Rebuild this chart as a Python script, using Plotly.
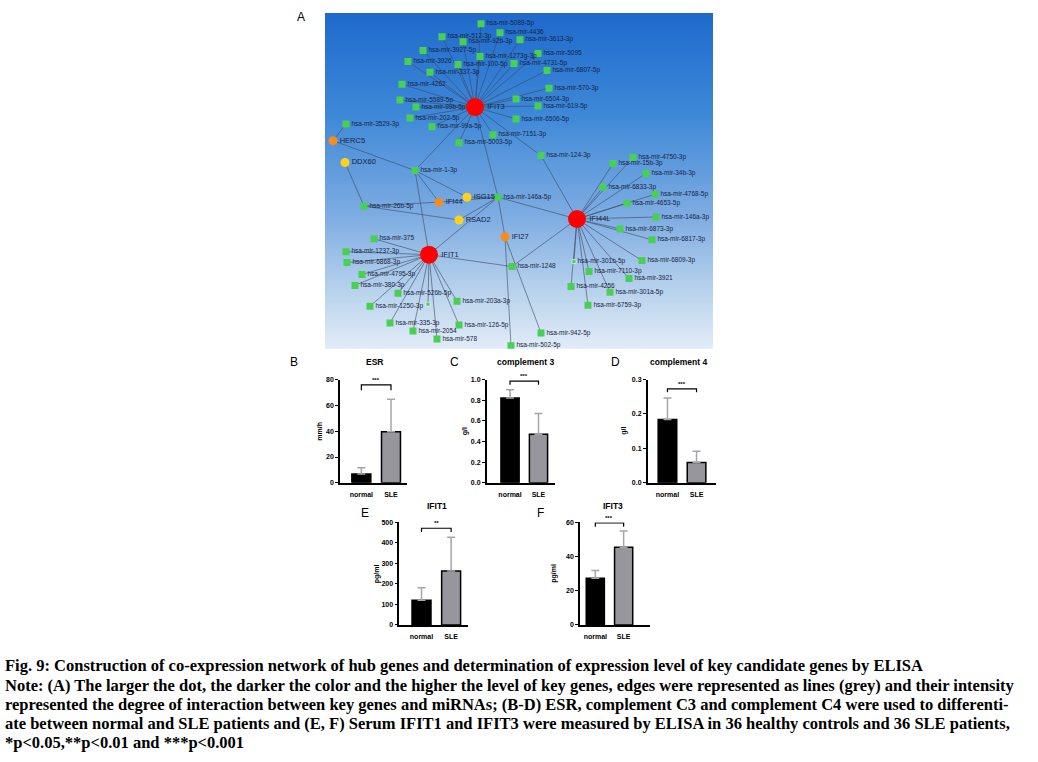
import numpy as np
import plotly.graph_objects as go

W, H = 1038, 762

# ---------------- network data (layout units) ----------------
node_names = [
    "IFIT3", "IFI44L", "IFIT1",
    "HERC5", "IFI44", "IFI27",
    "DDX60", "ISG15", "RSAD2",
    "hsa-mir-5089-5p", "hsa-mir-4436", "hsa-mir-512-3p", "hsa-mir-92b-3p", "hsa-mir-3613-3p",
    "hsa-mir-3927-5p", "hsa-mir-1273g-3p", "hsa-mir-5095", "hsa-mir-3926", "hsa-mir-100-5p",
    "hsa-mir-4731-5p", "hsa-mir-337-3p", "hsa-mir-6807-5p", "hsa-mir-4262", "hsa-mir-570-3p",
    "hsa-mir-5589-5p", "hsa-mir-6504-3p", "hsa-mir-99b-5p", "hsa-mir-619-5p", "hsa-mir-202-5p",
    "hsa-mir-6506-5p", "hsa-mir-3529-3p", "hsa-mir-99a-5p", "hsa-mir-7151-3p", "hsa-mir-5003-5p",
    "hsa-mir-124-3p", "hsa-mir-1-3p", "hsa-mir-146a-5p", "hsa-mir-26b-5p",
    "hsa-mir-4750-3p", "hsa-mir-15b-3p", "hsa-mir-34b-3p", "hsa-mir-6833-3p", "hsa-mir-4768-5p",
    "hsa-mir-4653-5p", "hsa-mir-146a-3p", "hsa-mir-6873-3p", "hsa-mir-6817-3p",
    "hsa-mir-375", "hsa-mir-1237-3p", "hsa-mir-6868-3p", "hsa-mir-4795-3p", "hsa-mir-380-3p",
    "hsa-mir-526b-5p", "hsa-mir-1250-3p", "", "hsa-mir-203a-3p", "hsa-mir-335-3p",
    "hsa-mir-126-5p", "hsa-mir-2054", "hsa-mir-578", "hsa-mir-1248", "hsa-mir-942-5p",
    "hsa-mir-502-5p", "hsa-mir-301b-5p", "hsa-mir-7110-3p", "hsa-mir-6809-3p", "hsa-mir-3921",
    "hsa-mir-4256", "hsa-mir-301a-5p", "hsa-mir-6759-3p",
]
node_x = [
    150, 252, 104,
    8, 114, 180,
    20, 142, 134,
    156, 175, 117, 138, 195,
    98, 155, 213, 83, 133,
    189, 105, 222, 77, 224,
    75, 191, 91, 213, 85,
    191, 21, 107, 168, 134,
    216, 90, 173, 39,
    308, 288, 321, 278, 330,
    302, 331, 295, 327,
    49, 21, 22, 37, 30,
    73, 45, 103, 132, 65,
    134, 88, 112, 187, 216,
    186, 249, 264, 317, 304,
    246, 285, 263,
]
node_y = [
    95, 208, 244,
    129, 191, 226,
    151, 186, 209,
    11, 20, 24, 29, 27,
    38, 44, 41, 49, 52,
    51, 60, 58, 72, 76,
    88, 87, 95, 94, 106,
    107, 112, 115, 123, 131,
    144, 159, 186, 195,
    146, 152, 162, 176, 183,
    192, 206, 218, 229,
    228, 241, 252, 264, 275,
    283, 296, 294, 291, 313,
    315, 321, 329, 256, 323,
    336, 251, 261, 250, 268,
    276, 282, 295,
]
node_kind = ["hub"] * 3 + ["orange"] * 3 + ["yellow"] * 3 + ["mir"] * (len(node_names) - 9)
node_kind[node_names.index("")] = "small"
node_kind[node_names.index("hsa-mir-301b-5p")] = "small"

edges = [("IFIT3", m) for m in [
    "hsa-mir-5089-5p", "hsa-mir-4436", "hsa-mir-512-3p", "hsa-mir-92b-3p", "hsa-mir-3613-3p",
    "hsa-mir-3927-5p", "hsa-mir-1273g-3p", "hsa-mir-5095", "hsa-mir-3926", "hsa-mir-100-5p",
    "hsa-mir-4731-5p", "hsa-mir-337-3p", "hsa-mir-6807-5p", "hsa-mir-4262", "hsa-mir-570-3p",
    "hsa-mir-5589-5p", "hsa-mir-6504-3p", "hsa-mir-99b-5p", "hsa-mir-619-5p", "hsa-mir-202-5p",
    "hsa-mir-6506-5p", "hsa-mir-99a-5p", "hsa-mir-7151-3p", "hsa-mir-5003-5p", "hsa-mir-124-3p",
    "hsa-mir-1-3p", "hsa-mir-146a-5p"]]
edges += [("HERC5", "hsa-mir-3529-3p"), ("HERC5", "hsa-mir-1-3p"), ("DDX60", "hsa-mir-26b-5p"),
          ("ISG15", "hsa-mir-1-3p"), ("IFI44", "hsa-mir-1-3p"), ("IFIT1", "hsa-mir-1-3p"),
          ("IFI44", "hsa-mir-26b-5p"), ("RSAD2", "hsa-mir-26b-5p"),
          ("ISG15", "hsa-mir-146a-5p"), ("IFI44", "hsa-mir-146a-5p"), ("RSAD2", "hsa-mir-146a-5p"),
          ("IFIT1", "hsa-mir-146a-5p"), ("IFI44L", "hsa-mir-146a-5p"), ("IFI27", "hsa-mir-146a-5p"),
          ("IFI27", "hsa-mir-942-5p"), ("IFI27", "hsa-mir-502-5p")]
edges += [("IFI44L", m) for m in [
    "hsa-mir-124-3p", "hsa-mir-1248", "hsa-mir-4750-3p", "hsa-mir-15b-3p", "hsa-mir-34b-3p",
    "hsa-mir-6833-3p", "hsa-mir-4768-5p", "hsa-mir-4653-5p", "hsa-mir-146a-3p", "hsa-mir-6873-3p",
    "hsa-mir-6817-3p", "hsa-mir-6809-3p", "hsa-mir-3921", "hsa-mir-301a-5p", "hsa-mir-6759-3p",
    "hsa-mir-4256", "hsa-mir-7110-3p", "hsa-mir-301b-5p"]]
edges += [("IFIT1", m) for m in [
    "hsa-mir-375", "hsa-mir-1237-3p", "hsa-mir-6868-3p", "hsa-mir-4795-3p", "hsa-mir-380-3p",
    "hsa-mir-526b-5p", "hsa-mir-1250-3p", "", "hsa-mir-203a-3p", "hsa-mir-335-3p",
    "hsa-mir-126-5p", "hsa-mir-2054", "hsa-mir-578", "hsa-mir-1248"]]

# ---------------- bar chart data ----------------
groups = ["normal", "SLE"]
panel_titles = ["ESR", "complement 3", "complement 4", "IFIT1", "IFIT3"]
panel_letters = ["B", "C", "D", "E", "F"]
units = ["mm/h", "g/l", "g/l", "pg/ml", "pg/ml"]
esr_mean = [6.9, 39.6]
esr_sd = [4.8, 25.1]
c3_mean = [0.82, 0.47]
c3_sd = [0.08, 0.20]
c4_mean = [0.184, 0.059]
c4_sd = [0.062, 0.033]
ifit1_mean = [121, 263]
ifit1_sd = [60, 165]
ifit3_mean = [27.3, 45.5]
ifit3_sd = [4.6, 9.5]
means = [esr_mean, c3_mean, c4_mean, ifit1_mean, ifit3_mean]
sds = [esr_sd, c3_sd, c4_sd, ifit1_sd, ifit3_sd]
significance = ["***", "***", "***", "**", "***"]
esr_ticks = [0, 20, 40, 60, 80]
c3_ticks = [0.0, 0.2, 0.4, 0.6, 0.8, 1.0]
c4_ticks = [0.0, 0.1, 0.2, 0.3]
ifit1_ticks = [0, 100, 200, 300, 400, 500]
ifit3_ticks = [0, 20, 40, 60]
tick_sets = [esr_ticks, c3_ticks, c4_ticks, ifit1_ticks, ifit3_ticks]
tick_fmt = ["d", ".1f", ".1f", "d", "d"]

caption_lines = [
    "Fig. 9: Construction of co-expression network of hub genes and determination of expression level of key candidate genes by ELISA",
    "Note: (A) The larger the dot, the darker the color and the higher the level of key genes, edges were represented as lines (grey) and their intensity",
    "represented the degree of interaction between key genes and miRNAs; (B-D) ESR, complement C3 and complement C4 were used to differenti-",
    "ate between normal and SLE patients and (E, F) Serum IFIT1 and IFIT3 were measured by ELISA in 36 healthy controls and 36 SLE patients,",
    "*p&lt;0.05,**p&lt;0.01 and ***p&lt;0.001",
]

# ---------------- layout geometry (pixels) ----------------
def dx(a, b):
    return [a / W, b / W]

def dy(top, bottom):
    return [1 - bottom / H, 1 - top / H]

def px(p):
    return p / W

def py(p):
    return 1 - p / H

geo = [
    dict(l=340, r=406.7, t=379, b=483.3, xr=[-0.72, 1.53], br=(75.9, 71.6)),
    dict(l=486.7, r=555, t=379, b=483.3, xr=[-0.82, 1.58], br=(0.984, 0.949)),
    dict(l=647.7, r=716, t=379, b=483.3, xr=[-0.68, 1.67], br=(0.273, 0.263)),
    dict(l=399.3, r=468.3, t=523.3, b=626.7, xr=[-0.75, 1.58], br=(472, 453)),
    dict(l=580, r=650, t=523.3, b=626.7, xr=[-0.54, 1.93], br=(59.8, 57.5)),
]
title_pos = [(374.3, 361), (525.3, 361), (678, 361), (437.3, 506.7), (613.3, 506.7)]
letter_pos = [(294, 361.7), (454.3, 361.7), (615, 361.7), (365, 513.3), (540, 513.3)]
unit_x = [319.5, 465, 624.5, 376.5, 554]

fig = go.Figure()

# ---------------- network ----------------
NX0, NX1, NY0, NY1 = 325, 713, 9, 348
gy = np.linspace(-5, 345, 60)
bg_scale = [[0, "rgb(30,106,204)"], [0.3, "rgb(62,136,216)"], [0.6, "rgb(125,172,226)"],
            [0.85, "rgb(190,214,238)"], [1, "rgb(226,236,248)"]]
fig.add_trace(go.Heatmap(x=[-10, 400], y=gy, z=[[v, v] for v in gy], colorscale=bg_scale,
                         zmin=0, zmax=339, zsmooth="best", showscale=False, hoverinfo="skip",
                         xaxis="x", yaxis="y"))

pos = {n: (x, y) for n, x, y in zip(node_names, node_x, node_y)}
ex, ey = [], []
for a, b in edges:
    ex += [pos[a][0], pos[b][0], None]
    ey += [pos[a][1], pos[b][1], None]
fig.add_trace(go.Scatter(x=ex, y=ey, mode="lines", line=dict(color="rgba(60,72,95,0.75)", width=0.8),
                         hoverinfo="skip", xaxis="x", yaxis="y"))

styles = {
    "mir": dict(color="rgb(72,208,82)", size=7, symbol="square", line=dict(width=0)),
    "small": dict(color="rgb(72,208,82)", size=4, symbol="square", line=dict(width=0.6, color="white")),
    "orange": dict(color="rgb(246,140,28)", size=9, symbol="circle", line=dict(width=0)),
    "yellow": dict(color="rgb(255,210,24)", size=9, symbol="circle", line=dict(width=0)),
    "hub": dict(color="rgb(255,0,0)", size=18, symbol="circle", line=dict(width=0)),
}
for kind in ["mir", "small", "orange", "yellow", "hub"]:
    idx = [i for i, k in enumerate(node_kind) if k == kind]
    fig.add_trace(go.Scatter(
        x=[node_x[i] for i in idx], y=[node_y[i] for i in idx],
        text=[node_names[i] for i in idx], mode="markers+text", textposition="middle right",
        textfont=dict(family="Liberation Sans, Arial", size=6.5 if kind in ("mir", "small") else 7.5,
                      color="rgb(22,36,62)"),
        marker=styles[kind], hoverinfo="text", xaxis="x", yaxis="y"))

layout = dict(
    width=W, height=H, margin=dict(l=0, r=0, t=0, b=0), paper_bgcolor="white",
    plot_bgcolor="rgba(0,0,0,0)", showlegend=False,
    xaxis=dict(domain=dx(NX0, NX1), range=[0, NX1 - NX0], visible=False, fixedrange=True),
    yaxis=dict(domain=dy(NY0, NY1), range=[NY1 - NY0, 0], visible=False, fixedrange=True),
    font=dict(family="Liberation Sans, Arial", color="black"),
)

annotations = [dict(text="A", x=px(301), y=py(13), xref="paper", yref="paper", showarrow=False,
                    xanchor="center", yanchor="middle",
                    font=dict(size=12, family="Liberation Sans, Arial"))]

# ---------------- bar panels ----------------
for i in range(5):
    k = i + 2
    g = geo[i]
    xa, ya = f"x{k}", f"y{k}"
    fig.add_trace(go.Bar(
        x=groups, y=means[i], width=0.64,
        marker=dict(color=["black", "rgb(150,150,156)"], line=dict(color="black", width=1.5)),
        error_y=dict(type="data", array=sds[i], arrayminus=[0, 0], symmetric=False,
                     color="rgb(165,165,170)", thickness=1.5, width=4),
        xaxis=xa, yaxis=ya, hoverinfo="y"))
    top, drop = g["br"]
    fig.add_trace(go.Scatter(x=[groups[0], groups[0], groups[1], groups[1]], y=[drop, top, top, drop],
                             mode="lines", line=dict(color="black", width=1.2), hoverinfo="skip",
                             xaxis=xa, yaxis=ya))
    ymax = tick_sets[i][-1]
    layout[f"xaxis{k}"] = dict(domain=dx(g["l"], g["r"]), range=g["xr"], type="category",
                               anchor=ya, showline=True, linecolor="black", linewidth=1.5,
                               ticks="", showgrid=False, zeroline=False, ticklabelstandoff=4,
                               tickfont=dict(size=7, weight="bold"), fixedrange=True)
    layout[f"yaxis{k}"] = dict(domain=dy(g["t"], g["b"]), range=[0, ymax], anchor=xa,
                               showline=True, linecolor="black", linewidth=1.5,
                               ticks="outside", ticklen=3, tickwidth=1, tickcolor="black",
                               tickvals=tick_sets[i], tickformat=tick_fmt[i],
                               showgrid=False, zeroline=False,
                               tickfont=dict(size=7, weight="bold"), fixedrange=True)
    annotations.append(dict(text=significance[i], x=0.5, y=top, xref=xa, yref=ya,
                            xanchor="center", yanchor="bottom",
                            showarrow=False, yshift=0, font=dict(size=6, weight="bold")))
    annotations.append(dict(text=f"<b>{panel_titles[i]}</b>", x=px(title_pos[i][0]), y=py(title_pos[i][1]),
                            xref="paper", yref="paper", xanchor="center", yanchor="middle",
                            showarrow=False, font=dict(size=8.5)))
    annotations.append(dict(text=panel_letters[i], x=px(letter_pos[i][0]), y=py(letter_pos[i][1]),
                            xref="paper", yref="paper", xanchor="center", yanchor="middle",
                            showarrow=False, font=dict(size=12)))
    annotations.append(dict(text=f"<b>{units[i]}</b>", x=px(unit_x[i]), y=py((g["t"] + g["b"]) / 2),
                            xref="paper", yref="paper", xanchor="center", yanchor="middle",
                            showarrow=False, textangle=-90, font=dict(size=7)))

# ---------------- caption ----------------
cap_y = [668, 688, 707, 726, 745]
for line, yy in zip(caption_lines, cap_y):
    annotations.append(dict(text=f"<b>{line}</b>", x=px(3), y=py(yy), xref="paper", yref="paper",
                            xanchor="left", yanchor="middle", showarrow=False,
                            font=dict(family="Liberation Serif, Times New Roman", size=16.5, color="black")))

layout["annotations"] = annotations
fig.update_layout(**layout)
fig.write_html("out.html", config={"displayModeBar": False},
               post_script="document.body.style.margin='0px';")
